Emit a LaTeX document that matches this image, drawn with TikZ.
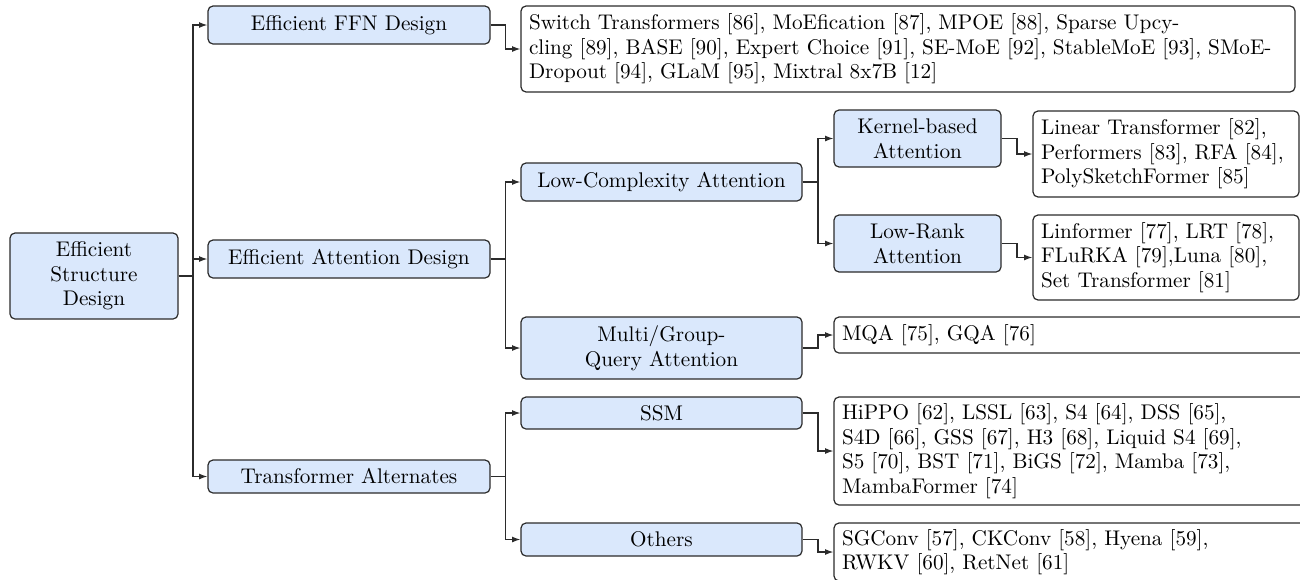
\documentclass[tikz,border=0pt]{standalone}
\usetikzlibrary{arrows.meta,calc}
\definecolor{boxblue}{HTML}{DAE8FC}
\definecolor{boxline}{HTML}{2B2B2B}
\tikzset{
  basebox/.style={draw=boxline, line width=0.6pt, rounded corners=2.5pt, inner sep=0pt,
    font=\fontsize{10.6}{12.3}\selectfont},
  catbox/.style={basebox, fill=boxblue, align=center},
  leafbox/.style={basebox, fill=white, align=left, inner xsep=4pt},
  conn/.style={draw=boxline, line width=0.6pt, -{Latex[length=4.2pt,width=3pt]}},
}
\newcommand{\elbowlink}[2]{\draw[conn] (#1.east) -| ($(#1.east)!0.5!(#2.west)$) |- (#2.west);}
\begin{document}
\begin{tikzpicture}[x=0.5pt,y=-0.5pt]
\useasboundingbox (0,0) rectangle (1300,579);
\clip (0,0) rectangle (1300,579);
% categories
\node[catbox, minimum width=84pt, minimum height=43pt] (root) at (94,276) {Efficient\\Structure\\Design};
\node[catbox, minimum width=141pt, minimum height=19pt] (ffn) at (349,25) {Efficient FFN Design};
\node[catbox, minimum width=141pt, minimum height=19pt] (attn) at (349,259) {Efficient Attention Design};
\node[catbox, minimum width=141pt, minimum height=16.5pt] (ta) at (349,476.5) {Transformer Alternates};
\node[catbox, minimum width=140.5pt, minimum height=19pt] (lowc) at (661.5,182) {Low-Complexity Attention};
\node[catbox, minimum width=140.5pt, minimum height=31pt] (multi) at (661.5,348) {Multi/Group-\\Query Attention};
\node[catbox, minimum width=140.5pt, minimum height=16pt] (ssm) at (661.5,413) {SSM};
\node[catbox, minimum width=140.5pt, minimum height=16.5pt] (others) at (661.5,539.5) {Others};
\node[catbox, minimum width=83.5pt, minimum height=28.5pt] (kernel) at (917.5,138.5) {Kernel-based\\Attention};
\node[catbox, minimum width=83.5pt, minimum height=28.5pt] (lowrank) at (917.5,243.5) {Low-Rank\\Attention};
% leaves
\node[leafbox, text width=379pt, minimum height=43pt] (ffnleaf) at (908,49)
  {\mbox{Switch Transformers [86], MoEfication [87], MPOE [88], Sparse Upcy-}\\
   \mbox{cling [89], BASE [90], Expert Choice [91], SE-MoE [92], StableMoE [93], SMoE-}\\
   \mbox{Dropout [94], GLaM [95], Mixtral 8x7B [12]}};
\node[leafbox, text width=125pt, minimum height=43pt] (kleaf) at (1166,154)
  {\mbox{Linear Transformer [82],}\\\mbox{Performers [83], RFA [84],}\\\mbox{PolySketchFormer [85]}};
\node[leafbox, text width=125pt, minimum height=42.5pt] (lrleaf) at (1166,257.5)
  {\mbox{Linformer [77], LRT [78],}\\\mbox{FLuRKA [79],Luna [80],}\\\mbox{Set Transformer [81]}};
\node[leafbox, text width=245pt, minimum height=18pt] (mqaleaf) at (1087,335)
  {MQA [75], GQA [76]};
\node[leafbox, text width=245pt, minimum height=54pt] (ssmleaf) at (1087,451)
  {\mbox{HiPPO [62], LSSL [63], S4 [64], DSS [65],}\\\mbox{S4D [66], GSS [67], H3 [68], Liquid S4 [69],}\\\mbox{S5 [70], BST [71], BiGS [72], Mamba [73],}\\\mbox{MambaFormer [74]}};
\node[leafbox, text width=245pt, minimum height=29pt] (othleaf) at (1087,552)
  {\mbox{SGConv [57], CKConv [58], Hyena [59],}\\\mbox{RWKV [60], RetNet [61]}};
% connectors
\elbowlink{root}{ffn}
\elbowlink{root}{attn}
\elbowlink{root}{ta}
\elbowlink{ffn}{ffnleaf}
\elbowlink{attn}{lowc}
\elbowlink{attn}{multi}
\elbowlink{lowc}{kernel}
\elbowlink{lowc}{lowrank}
\elbowlink{kernel}{kleaf}
\elbowlink{lowrank}{lrleaf}
\elbowlink{multi}{mqaleaf}
\elbowlink{ta}{ssm}
\elbowlink{ta}{others}
\elbowlink{ssm}{ssmleaf}
\elbowlink{others}{othleaf}
\end{tikzpicture}
\end{document}
